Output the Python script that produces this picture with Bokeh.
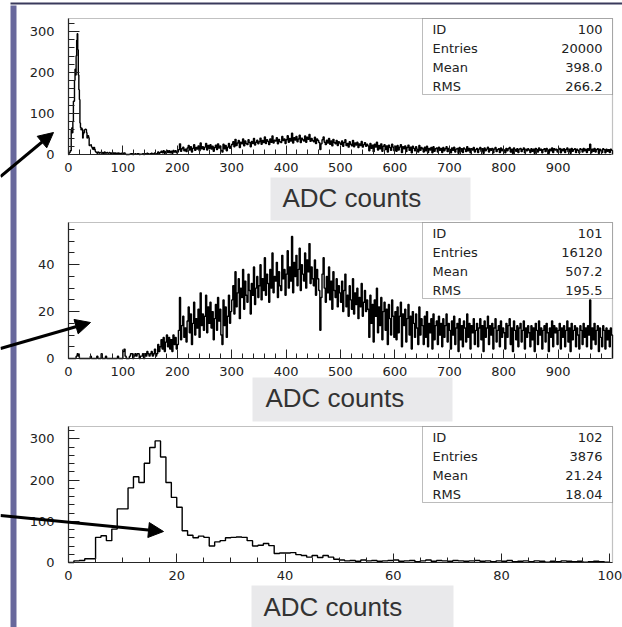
import numpy as np
from bokeh.plotting import figure
from bokeh.models import (SingleIntervalTicker, Range1d, BoxAnnotation, Label,
                          Arrow, NormalHead, LinearAxis)
from bokeh.embed import file_html
from bokeh.resources import INLINE

# ---------------- data ----------------
# histogram 102 : ADC counts 0..100, bins of width 1
h102_counts = [0, 4, 5, 9, 9, 61, 65, 53, 81, 130,
               130, 181, 208, 194, 241, 279, 295, 256, 194, 158,
               134, 77, 66, 60, 64, 61, 40, 50, 53, 60,
               61, 62, 61, 53, 40, 42, 46, 41, 22, 23,
               23, 24, 19, 17, 13, 17, 12, 17, 13, 8,
               6, 4, 5, 3, 6, 4, 5, 3, 4, 5,
               6, 3, 4, 5, 2, 4, 6, 3, 5, 4,
               3, 5, 4, 3, 4, 5, 3, 4, 2, 4,
               3, 5, 2, 3, 4, 2, 4, 3, 1, 3,
               2, 4, 3, 2, 3, 1, 2, 3, 2, 1]

# histogram 101 : ADC counts 0..1000, displayed in steps of 2 counts
h101_counts = [
    0, 0, 0, 0, 0, 0, 0, 1, 2, 1, 0, 0, 0, 0, 0, 0, 0, 0, 0, 0, 1, 0, 0, 0, 0,
    0, 1, 0, 0, 0, 2, 0, 0, 0, 1, 0, 0, 0, 0, 0, 0, 0, 0, 0, 0, 1, 0, 0, 0, 0,
    3, 4, 1, 0, 0, 0, 1, 2, 2, 0, 1, 2, 1, 2, 2, 0, 1, 1, 2, 0, 2, 1, 3, 2, 1,
    2, 3, 1, 2, 4, 1, 2, 6, 3, 5, 8, 4, 9, 3, 7, 10, 5, 9, 4, 8, 3, 10, 6, 9, 4,
    6, 12, 26, 8, 14, 18, 9, 13, 7, 16, 22, 11, 19, 6, 15, 24, 10, 17, 13, 21, 9, 28, 14, 19, 12,
    18, 27, 11, 22, 15, 24, 13, 20, 8, 17, 23, 12, 26, 16, 21, 10, 6, 25, 14, 22, 9, 18, 27, 15, 20,
    25, 31, 19, 37, 22, 28, 34, 17, 30, 26, 38, 21, 33, 27, 24, 36, 29, 19, 32, 27, 39, 23, 30, 35, 26,
    31, 40, 25, 34, 29, 43, 27, 36, 32, 24, 38, 30, 45, 28, 35, 33, 41, 26, 37, 31, 29, 44, 34, 38, 27,
    36, 46, 30, 39, 33, 52, 28, 41, 35, 44, 31, 38, 47, 29, 40, 36, 33, 45, 30, 42, 37, 49, 32, 39, 34,
    31, 42, 27, 38, 34, 29, 12, 26, 36, 43, 30, 24, 35, 28, 39, 25, 33, 21, 37, 29, 26, 34, 22, 31, 28,
    24, 33, 20, 29, 36, 22, 27, 18, 31, 25, 21, 34, 19, 28, 23, 30, 17, 26, 22, 32, 18, 24, 29, 20, 25,
    21, 9, 27, 15, 23, 7, 25, 18, 30, 11, 22, 14, 26, 8, 20, 24, 12, 21, 6, 23, 17, 10, 25, 18, 9,
    20, 8, 22, 11, 18, 24, 5, 19, 14, 21, 7, 17, 23, 10, 18, 4, 20, 15, 9, 19, 13, 6, 22, 10, 17,
    14, 6, 18, 9, 20, 5, 15, 11, 17, 4, 19, 8, 14, 16, 6, 18, 10, 15, 5, 17, 9, 14, 19, 7, 15,
    12, 4, 16, 10, 18, 6, 13, 15, 3, 17, 8, 14, 5, 16, 13, 7, 19, 9, 15, 4, 14, 11, 17, 6, 12,
    15, 5, 13, 17, 8, 14, 3, 16, 9, 13, 18, 6, 14, 10, 15, 4, 13, 17, 7, 12, 14, 5, 16, 9, 13,
    11, 4, 15, 9, 14, 17, 6, 13, 3, 16, 12, 8, 14, 5, 13, 15, 7, 12, 16, 4, 13, 9, 14, 11, 5,
    14, 8, 13, 3, 15, 12, 6, 16, 10, 13, 4, 12, 14, 7, 15, 11, 3, 13, 9, 16, 5, 14, 11, 13, 6,
    12, 15, 4, 13, 9, 14, 5, 12, 16, 7, 13, 3, 15, 8, 12, 14, 5, 13, 10, 4, 14, 12, 6, 15, 9,
    13, 5, 14, 10, 25, 4, 13, 8, 15, 6, 12, 14, 3, 13, 9, 5, 14, 12, 4, 13, 8, 12, 5, 13, 10,
]

stat_names = ["ID", "Entries", "Mean", "RMS"]
stats_100 = ["100", "20000", "398.0", "266.2"]
stats_101 = ["101", "16120", "507.2", "195.5"]
stats_102 = ["102", "3876", "21.24", "18.04"]
axis_title = "ADC counts"

# ---------------- derived histograms ----------------
h102_edges = np.arange(len(h102_counts) + 1, dtype=float)
h101_edges = np.arange(len(h101_counts) + 1, dtype=float) * 2.0
# histogram 100 = low part (102) + high part (101)
h100_edges = np.concatenate([h102_edges, h101_edges[51:]])
h100_counts = list(h102_counts) + list(h101_counts[50:])


def step_xy(edges, counts):
    edges = np.asarray(edges, dtype=float)
    counts = np.asarray(counts, dtype=float)
    xs = np.repeat(edges, 2)[1:-1]
    ys = np.repeat(counts, 2)
    xs = np.concatenate([[edges[0]], xs, [edges[-1]]])
    ys = np.concatenate([[0.0], ys, [0.0]])
    return xs, ys


# ---------------- page layout (pixels) ----------------
W, H = 622, 627
FL, FR = 68, 612          # frame left / right of every panel
FH = 136                  # frame height
PURPLE = "#68689c"
INK = "#222222"

# one canvas; page pixels are the default range (y downwards)
p = figure(width=W, height=H, x_range=Range1d(0, W), y_range=Range1d(H, 0),
           x_axis_type=None, y_axis_type=None, min_border=0,
           toolbar_location=None, tools="", output_backend="svg")
p.xgrid.visible = False
p.ygrid.visible = False
p.outline_line_color = None
p.background_fill_color = "white"
p.border_fill_color = "white"

# purple side bar and top rule of the slide
p.add_layout(BoxAnnotation(left=10, right=16, top=5, bottom=H, fill_color=PURPLE,
                           fill_alpha=1.0, line_alpha=0))
p.add_layout(BoxAnnotation(left=10, right=W, top=2, bottom=4, fill_color="#3a3a5c",
                           fill_alpha=1.0, line_alpha=0))


def panel(name, FT, xr, yr, xint, xminor, yint, yminor, xbound, edges, counts,
          stats, box, text_xy, arrow):
    FB = FT + FH
    x0, x1 = xr
    y0, y1 = yr
    sx = (x1 - x0) / (FR - FL)
    sy = (y1 - y0) / FH
    xn, yn = name + "x", name + "y"
    p.extra_x_ranges[xn] = Range1d(x0 - FL * sx, x1 + (W - FR) * sx)
    p.extra_y_ranges[yn] = Range1d(y0 - (H - FB) * sy, y1 + FT * sy)

    # histogram (only the bins inside the frame)
    e = np.asarray(edges, dtype=float)
    keep = int(np.searchsorted(e, x1, side="right")) - 1
    xs, ys = step_xy(e[:keep + 1], counts[:keep])
    p.line(xs, ys, x_range_name=xn, y_range_name=yn, line_color="black", line_width=1.4)

    # axes drawn at the panel's own frame edges
    xa = LinearAxis(x_range_name=xn, y_range_name=yn, fixed_location=y0,
                    bounds=(x0, xbound),
                    ticker=SingleIntervalTicker(interval=xint, num_minor_ticks=xminor))
    ya = LinearAxis(x_range_name=xn, y_range_name=yn, fixed_location=x0,
                    bounds=(y0, y1),
                    ticker=SingleIntervalTicker(interval=yint, num_minor_ticks=yminor))
    for ax in (xa, ya):
        ax.axis_line_color = INK
        ax.axis_line_width = 1.2
        ax.major_tick_line_color = INK
        ax.minor_tick_line_color = INK
        ax.major_tick_out = 0
        ax.minor_tick_out = 0
        ax.major_label_text_font = "DejaVu Sans"
        ax.major_label_text_font_size = "13px"
        ax.major_label_text_color = INK
    xa.major_tick_in = 9
    xa.minor_tick_in = 5
    ya.major_tick_in = 11
    ya.minor_tick_in = 6
    xa.major_label_standoff = 8
    ya.major_label_standoff = 14
    p.add_layout(xa, "below")
    p.add_layout(ya, "left")

    # frame outline
    p.add_layout(BoxAnnotation(left=FL, right=FR, top=FT, bottom=FB, fill_alpha=0,
                               line_color="#333333", line_width=1.2))

    # statistics box
    p.add_layout(BoxAnnotation(left=422, right=FR, top=FT, bottom=FT + 76,
                               fill_color="white", fill_alpha=1.0,
                               line_color=INK, line_width=1))
    for i, (nm, val) in enumerate(zip(stat_names, stats)):
        yy = FT + 10.5 + 19 * i
        p.add_layout(Label(x=432, y=yy, text=nm, text_align="left",
                           text_baseline="middle", text_font="DejaVu Sans",
                           text_font_size="13px", text_color=INK))
        p.add_layout(Label(x=602, y=yy, text=val, text_align="right",
                           text_baseline="middle", text_font="DejaVu Sans",
                           text_font_size="13px", text_color=INK))

    # grey axis-title box
    bl, btop, br, bbot = box
    p.add_layout(BoxAnnotation(left=bl, right=br, top=btop, bottom=bbot,
                               fill_color="#e9e9eb", fill_alpha=1.0, line_alpha=0))
    p.add_layout(Label(x=text_xy[0], y=text_xy[1], text=axis_title,
                       text_align="left", text_baseline="middle",
                       text_font="Liberation Sans", text_font_size="26px",
                       text_color="#333333"))

    (ax0, ay0), (ax1, ay1) = arrow
    p.add_layout(Arrow(x_start=ax0, y_start=ay0, x_end=ax1, y_end=ay1,
                       line_color="black", line_width=3,
                       end=NormalHead(size=15, fill_color="black", line_color="black",
                                      line_width=1)))


panel("h100", 18, (0, 1000), (0, 332), 100, 5, 100, 5, 999,
      h100_edges, h100_counts, stats_100,
      (270, 177, 470, 220), (282, 197.5), ((0, 176), (53, 132)))
panel("h101", 222, (0, 1000), (0, 58), 100, 5, 20, 4, 999,
      h101_edges, h101_counts, stats_101,
      (252, 377, 452, 421), (265, 397.5), ((0, 348), (90, 322)))
panel("h102", 426, (0, 100.5), (0, 330), 20, 4, 100, 5, 100.5,
      h102_edges, h102_counts, stats_102,
      (251, 585, 453, H), (263, 606), ((0, 515), (163, 531)))

open("out.html", "w").write(file_html(p, INLINE))
